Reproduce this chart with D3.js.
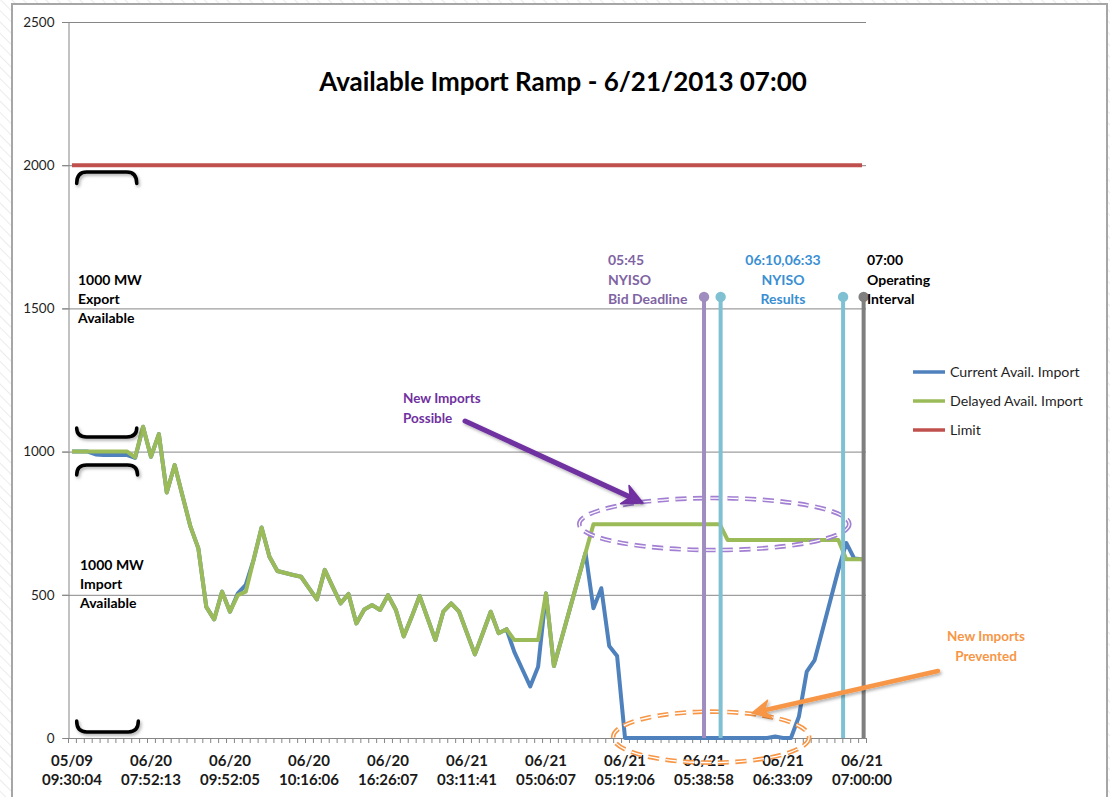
<!DOCTYPE html>
<html><head><meta charset="utf-8">
<script src="https://cdn.jsdelivr.net/npm/d3@7"></script>
<style>
html,body{margin:0;padding:0;background:#fff;}
svg{display:block;font-family:Lato,"Open Sans",sans-serif;}
</style></head><body>
<svg id="chart" width="1110" height="797"></svg>
<script>
// ---------------- data ----------------
const tickLabelIndex = [0,10,20,30,40,50,60,70,80,90,100];
const tickDates = ["05/09","06/20","06/20","06/20","06/20","06/21","06/21","06/21","06/21","06/21","06/21"];
const tickTimes = ["09:30:04","07:52:13","09:52:05","10:16:06","16:26:07","03:11:41","05:06:07","05:19:06","05:38:58","06:33:09","07:00:00"];
const yTicks = [0,500,1000,1500,2000,2500];

const currentImport = [1000,1000,1000,990,988,988,988,988,978,1087,
 982,1061,857,953,845,738,662,458,414,511,
 441,505,535,623,735,633,583,576,569,563,
 523,484,587,528,470,503,400,449,464,447,
 499,447,355,423,496,419,342,441,470,441,
 366,292,366,441,366,380,300,240,180,249,
 505,251,350,449,548,647,453,523,321,286,
 0,0,0,0,0,0,0,0,0,0,
 0,0,0,0,0,0,0,0,0,5,
 0,0,74,232,272,377,482,587,681,627,
 624];
const delayedImport = [1000,1000,1000,1000,1000,1000,1000,1000,980,1087,
 982,1061,857,953,845,738,662,458,414,511,
 441,499,511,623,735,633,583,576,569,563,
 523,484,587,528,470,503,400,449,464,447,
 499,447,355,423,496,419,342,441,470,441,
 366,292,366,441,366,380,342,342,342,342,
 505,251,350,449,548,647,746,746,746,746,
 746,746,746,746,746,746,746,746,746,746,
 746,746,746,691,691,691,691,691,691,691,
 691,691,691,691,691,691,691,691,624,624,
 624];
const limitValue = 2000;
const categories = currentImport.map((d,i)=>i);
const limitSeries = categories.map(()=>limitValue);

const seriesNames = ["Current Avail. Import","Delayed Avail. Import","Limit"];
const seriesColors = ["#4f81bd","#9bbb59","#c0504d"];

// annotation markers (fractional category index)
const markerPos = [80.0, 82.1, 97.6, 100.2];
const markerColors = ["#a08dbf","#7fc1d3","#7fc1d3","#7f7f7f"];

// ---------------- layout ----------------
const svg = d3.select("#chart");
const W = 1110, H = 797;
const plot = {left:68, right:866, top:22, bottom:738};

const x = d3.scaleLinear().domain([-0.5, categories.length-0.5]).range([plot.left, plot.right]);
const y = d3.scaleLinear().domain([0,2500]).range([plot.bottom, plot.top]);

const defs = svg.append("defs");
const sh = defs.append("filter").attr("id","shadow").attr("x","-20%").attr("y","-20%").attr("width","140%").attr("height","160%");
sh.append("feDropShadow").attr("dx",1.5).attr("dy",2).attr("stdDeviation",1.6).attr("flood-color","#000").attr("flood-opacity",0.3);
const pat = defs.append("pattern").attr("id","hatch").attr("patternUnits","userSpaceOnUse").attr("width",8).attr("height",8).attr("patternTransform","rotate(-45)");
pat.append("line").attr("x1",0).attr("y1",0).attr("x2",0).attr("y2",8).attr("stroke","#e4e4e4").attr("stroke-width",1.5);

// background
svg.append("rect").attr("width",W).attr("height",H).attr("fill","url(#hatch)");
svg.append("rect").attr("x",12).attr("y",4).attr("width",1095).attr("height",H).attr("fill","#fff")
  .attr("stroke","#a6a6a6").attr("stroke-width",2);

// gridlines
const g = svg.append("g");
g.selectAll("line.grid").data(yTicks.filter(d=>d>0)).join("line")
  .attr("x1",plot.left-6).attr("x2",plot.right)
  .attr("y1",d=>y(d)+0.5).attr("y2",d=>y(d)+0.5)
  .attr("stroke","#868686").attr("stroke-width",1);

// y axis
const yAxis = d3.axisLeft(y).tickValues(yTicks).tickSize(6).tickFormat(d3.format("d"));
const ya = svg.append("g").attr("transform",`translate(${plot.left+0.5},0)`).call(yAxis);
ya.select(".domain").attr("stroke","#868686");
ya.selectAll(".tick line").attr("stroke","#868686");
ya.selectAll(".tick text").attr("font-size",13.5).attr("fill","#1f1f1f").attr("x",-14)
  .attr("font-family","Lato,'Open Sans',sans-serif");

// x axis
const boundaries = d3.range(-0.5, categories.length, 1);
const xa = svg.append("g");
xa.append("line").attr("x1",plot.left).attr("x2",plot.right).attr("y1",plot.bottom+0.5).attr("y2",plot.bottom+0.5).attr("stroke","#868686");
xa.selectAll("line.t").data(boundaries).join("line")
  .attr("x1",d=>x(d)+0.5).attr("x2",d=>x(d)+0.5).attr("y1",plot.bottom).attr("y2",plot.bottom+5)
  .attr("stroke","#868686");
const xl = xa.selectAll("text.xl").data(tickLabelIndex).join("text")
  .attr("x",d=>x(d)).attr("text-anchor","middle").attr("font-weight","bold").attr("font-size",15).attr("fill","#1a1a1a");
xl.append("tspan").attr("x",d=>x(d)).attr("y",766).text((d,i)=>tickDates[i]);
xl.append("tspan").attr("x",d=>x(d)).attr("y",785).text((d,i)=>tickTimes[i]);

// series
const line = d3.line().x((d,i)=>x(i)).y(d=>y(d));
const allSeries = [currentImport, delayedImport, limitSeries];
svg.append("g").selectAll("path").data(allSeries).join("path")
  .attr("d",line).attr("fill","none").attr("stroke",(d,i)=>seriesColors[i])
  .attr("stroke-width",4).attr("stroke-linejoin","round");

// title
svg.append("text").attr("x",563).attr("y",91).attr("text-anchor","middle")
  .attr("font-size",26).attr("font-weight","bold").attr("fill","#000")
  .text("Available Import Ramp - 6/21/2013 07:00");

// legend
const lg = svg.append("g").selectAll("g").data(seriesNames).join("g")
  .attr("transform",(d,i)=>`translate(913,${372+i*29})`);
lg.append("line").attr("x1",0).attr("x2",32).attr("stroke",(d,i)=>seriesColors[i]).attr("stroke-width",3.5);
lg.append("text").attr("x",37).attr("y",5).attr("font-size",14.2).attr("fill","#1f1f1f").text(d=>d);

// brackets (value space)
const brackets = [
  {x0:0.6,x1:8.2,flat:1976,end:1936},
  {x0:0.6,x1:8.2,flat:1051,end:1082},
  {x0:0.6,x1:8.3,flat:953,end:918},
  {x0:0.6,x1:8.4,flat:21,end:59}
];
svg.append("g").attr("filter","url(#shadow)").selectAll("path").data(brackets).join("path")
  .attr("d",b=>{
    const X0=x(b.x0),X1=x(b.x1),Yf=y(b.flat),Ye=y(b.end),r=10;
    return `M${X0},${Ye} Q${X0},${Yf} ${X0+r},${Yf} L${X1-r},${Yf} Q${X1},${Yf} ${X1},${Ye}`;
  }).attr("fill","none").attr("stroke","#000").attr("stroke-width",3.5).attr("stroke-linecap","round");

// ellipses (double dashed)
const ellipses = [
  {cx:81.3, cy:747, rx:135, ry:26, color:"#a27fd3"},
  {cx:80.9, cy:3, rx:98, ry:25.5, color:"#f79646"}
];
ellipses.forEach(e=>{
  [ {w:4.6,c:e.color}, {w:1.3,c:"#fff"} ].forEach(s=>{
    svg.append("ellipse").attr("cx",x(e.cx)).attr("cy",y(e.cy)).attr("rx",e.rx).attr("ry",e.ry)
      .attr("fill","none").attr("stroke",s.c).attr("stroke-width",s.w).attr("stroke-dasharray","11 6.5");
  });
});

// marker lines
const mk = svg.append("g").selectAll("g").data(markerPos).join("g");
mk.append("line").attr("x1",d=>x(d)).attr("x2",d=>x(d)).attr("y1",y(1540)).attr("y2",plot.bottom)
  .attr("stroke",(d,i)=>markerColors[i]).attr("stroke-width",4);
mk.append("circle").attr("cx",d=>x(d)).attr("cy",y(1540)).attr("r",5.2).attr("fill",(d,i)=>markerColors[i]);

// arrows
function arrow(x1,y1,x2,y2,color,w,hl,hw){
  const ang=Math.atan2(y2-y1,x2-x1);
  const bx=x2-hl*Math.cos(ang), by=y2-hl*Math.sin(ang);
  const nx=-Math.sin(ang), ny=Math.cos(ang);
  const gg=svg.append("g").attr("filter","url(#shadow)");
  gg.append("line").attr("x1",x1).attr("y1",y1).attr("x2",bx+ (hl*0.3)*Math.cos(ang)).attr("y2",by+(hl*0.3)*Math.sin(ang))
    .attr("stroke",color).attr("stroke-width",w).attr("stroke-linecap","round");
  const ix=x2-hl*0.7*Math.cos(ang), iy=y2-hl*0.7*Math.sin(ang);
  gg.append("path").attr("d",`M${x2},${y2} L${bx+nx*hw/2},${by+ny*hw/2} L${ix},${iy} L${bx-nx*hw/2},${by-ny*hw/2} Z`)
    .attr("fill",color).attr("stroke",color).attr("stroke-width",1.5).attr("stroke-linejoin","round");
}
arrow(465,421,643,503,"#7030a0",5,20,20);
arrow(938,671,752,713,"#f79646",4.5,18,18);

// annotation texts
function block(xp,yp,lines,color,anchor,size,gap){
  const t=svg.append("text").attr("font-weight","bold").attr("font-size",size||13.5).attr("fill",color).attr("text-anchor",anchor||"start");
  lines.forEach((s,i)=>t.append("tspan").attr("x",xp).attr("y",yp+i*(gap||19.5)).text(s));
}
block(78,285,["1000 MW","Export","Available"],"#000","start",14,19);
block(80,570,["1000 MW","Import","Available"],"#000","start",14,19);
block(608,265,["05:45","NYISO","Bid Deadline"],"#7f64a3","start",14,19.5);
block(783,265,["06:10,06:33","NYISO","Results"],"#3a8fd2","middle",14,19.5);
block(867,265,["07:00","Operating","Interval"],"#000","start",14,19.5);
block(403,403,["New Imports","Possible"],"#7030a0","start",13.5,19.5);
block(986,641,["New Imports","Prevented"],"#f79646","middle",13.5,19.5);
</script>
</body></html>
